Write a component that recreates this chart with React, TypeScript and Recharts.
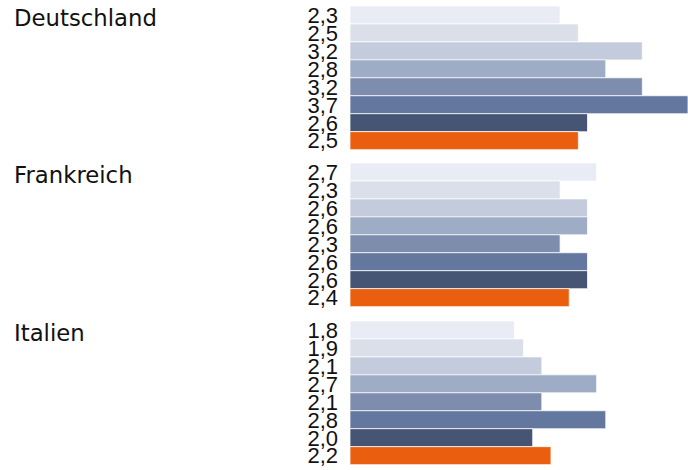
import React from 'react';
import { BarChart, Bar, XAxis, YAxis, Cell, LabelList, Customized } from 'recharts';

// Countries shown as separate bar groups, top to bottom
const countries = ['Deutschland', 'Frankreich', 'Italien'];

// Eight series per country, in drawing order (lightest to darkest, then highlight)
const deutschlandValues = [2.3, 2.5, 3.2, 2.8, 3.2, 3.7, 2.6, 2.5];
const frankreichValues = [2.7, 2.3, 2.6, 2.6, 2.3, 2.6, 2.6, 2.4];
const italienValues = [1.8, 1.9, 2.1, 2.7, 2.1, 2.8, 2.0, 2.2];

const seriesColors = [
  '#E9ECF4',
  '#DADFEA',
  '#C3CBDC',
  '#9EACC6',
  '#7E8DAE',
  '#64789F',
  '#465573',
  '#EA5E10',
];

const valueDomain: [number, number] = [0, 3.7];

const groupValues = [deutschlandValues, frankreichValues, italienValues];

const WIDTH = 688;
const GROUP_HEIGHT = 143.6;
const PAD = 12; // room above/below each group so value labels are not clipped
const GROUP_TOPS = [5.7, 163.3, 321];

const formatValue = (v: number) => v.toFixed(1).replace('.', ',');

function CountryGroup({ name, values, top }: { name: string; values: number[]; top: number }) {
  const rows = values.map((v, i) => ({ key: `s${i}`, value: v }));
  return (
    <div style={{ position: 'absolute', left: 0, top: top - PAD, width: WIDTH, height: GROUP_HEIGHT + 2 * PAD }}>
      <BarChart
        width={WIDTH}
        height={GROUP_HEIGHT + 2 * PAD}
        data={rows}
        layout="vertical"
        margin={{ top: PAD, right: 0, bottom: PAD, left: 350 }}
        barCategoryGap={0}
        barGap={0}
      >
        <XAxis type="number" domain={valueDomain} hide allowDataOverflow />
        <YAxis type="category" dataKey="key" hide width={0} />
        <Bar
          dataKey="value"
          isAnimationActive={false}
          stroke="rgba(255,255,255,0.75)"
          strokeWidth={1}
        >
          {rows.map((r, i) => (
            <Cell key={r.key} fill={seriesColors[i]} />
          ))}
          <LabelList
            dataKey="value"
            position="left"
            offset={12}
            formatter={(v: any) => formatValue(Number(v))}
            style={{
              fontFamily: '"Liberation Sans", Arial, sans-serif',
              fontSize: 22,
              fill: '#111',
            }}
          />
        </Bar>
        <Customized
          component={() => (
            <text
              x={14}
              y={PAD + 20.5}
              style={{ fontFamily: '"DejaVu Sans", Verdana, sans-serif', fontSize: 22.8, fill: '#111' }}
            >
              {name}
            </text>
          )}
        />
      </BarChart>
    </div>
  );
}

export default function App() {
  return (
    <div style={{ position: 'absolute', left: 0, top: 0, width: WIDTH, height: 470, background: '#fff' }}>
      {countries.map((c, i) => (
        <CountryGroup key={c} name={c} values={groupValues[i]} top={GROUP_TOPS[i]} />
      ))}
    </div>
  );
}
